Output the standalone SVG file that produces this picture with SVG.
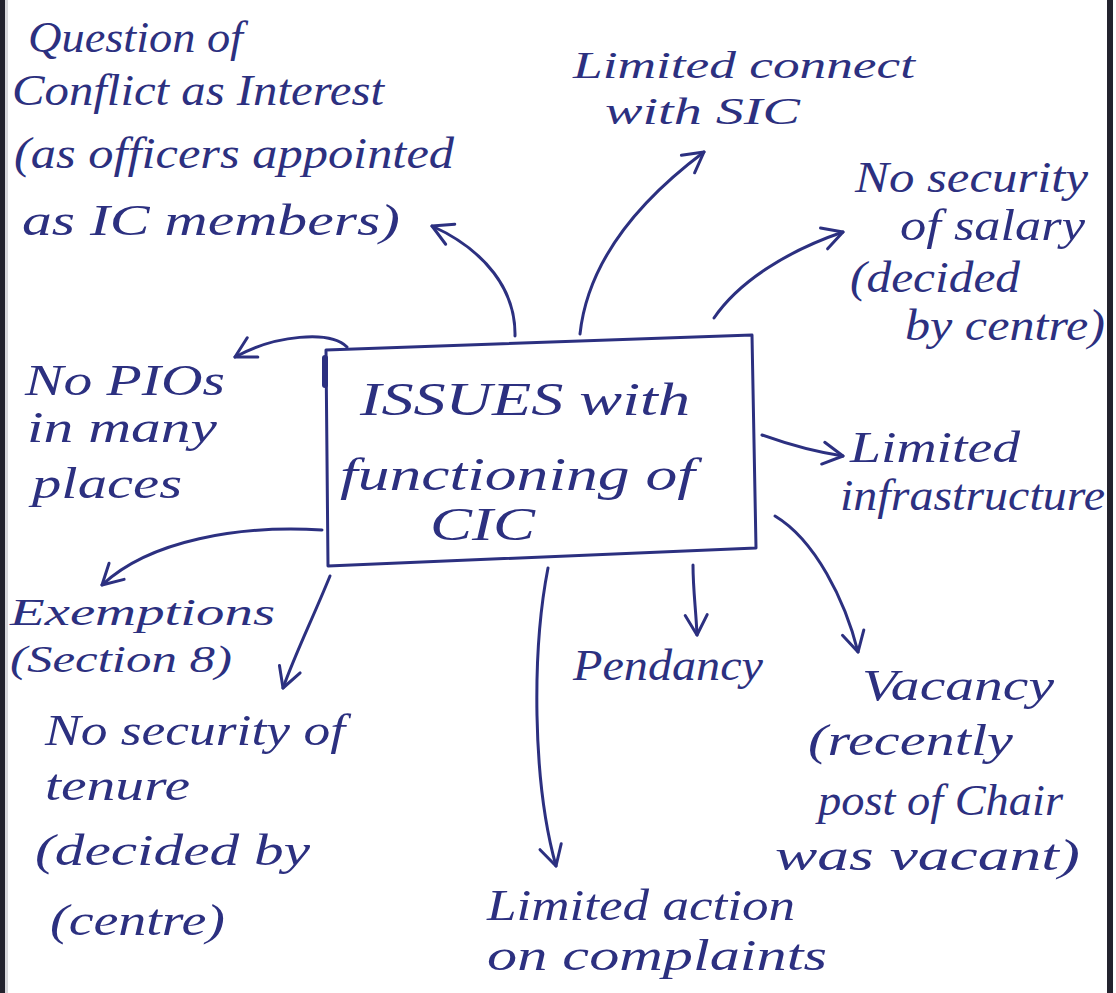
<svg xmlns="http://www.w3.org/2000/svg" width="1116" height="993" viewBox="0 0 1116 993">
  <style>
    .t { font-family: "Liberation Serif", "DejaVu Serif", serif; font-style: italic; font-size: 44px; fill: #2c3080; }
    .b { font-size: 46px; }
    .s { font-size: 38px; }
    .ln { fill: none; stroke: #2c3080; stroke-width: 3; stroke-linecap: round; stroke-linejoin: round; }
  </style>
  <defs>
    <marker id="head" viewBox="-24 -14 28 28" refX="0" refY="0" markerWidth="28" markerHeight="28" markerUnits="userSpaceOnUse" orient="auto">
      <path d="M-20,-11 L0,0 L-20,11" fill="none" stroke="#2c3080" stroke-width="3" stroke-linecap="round" stroke-linejoin="round"/>
    </marker>
  </defs>

  <rect width="1116" height="993" fill="#ffffff"/>

  <!-- central box -->
  <g id="center">
    <polygon class="ln" points="326,350 752,335 756,548 328,566"/>
    <path d="M325,358 L325,385" stroke="#2c3080" stroke-width="6" stroke-linecap="round"/>
    <text class="t b" x="360" y="415" textLength="330" lengthAdjust="spacingAndGlyphs">ISSUES with</text>
    <text class="t b" x="340" y="490" textLength="355" lengthAdjust="spacingAndGlyphs">functioning of</text>
    <text class="t b" x="430" y="540" textLength="105" lengthAdjust="spacingAndGlyphs">CIC</text>
  </g>

  <g id="conflict">
    <text class="t" x="28" y="52" textLength="215" lengthAdjust="spacingAndGlyphs">Question of</text>
    <text class="t" x="12" y="105" textLength="372" lengthAdjust="spacingAndGlyphs">Conflict as Interest</text>
    <text class="t" x="14" y="168" textLength="440" lengthAdjust="spacingAndGlyphs">(as officers appointed</text>
    <text class="t" x="22" y="235" textLength="378" lengthAdjust="spacingAndGlyphs">as IC members)</text>
  </g>

  <g id="sic">
    <text class="t s" x="573" y="78" textLength="342" lengthAdjust="spacingAndGlyphs">Limited connect</text>
    <text class="t s" x="605" y="124" textLength="195" lengthAdjust="spacingAndGlyphs">with SIC</text>
  </g>

  <g id="salary">
    <text class="t" x="855" y="192" textLength="233" lengthAdjust="spacingAndGlyphs">No security</text>
    <text class="t" x="900" y="240" textLength="185" lengthAdjust="spacingAndGlyphs">of salary</text>
    <text class="t" x="850" y="292" textLength="170" lengthAdjust="spacingAndGlyphs">(decided</text>
    <text class="t" x="905" y="340" textLength="200" lengthAdjust="spacingAndGlyphs">by centre)</text>
  </g>

  <g id="pio">
    <text class="t" x="25" y="395" textLength="200" lengthAdjust="spacingAndGlyphs">No PIOs</text>
    <text class="t" x="27" y="442" textLength="190" lengthAdjust="spacingAndGlyphs">in many</text>
    <text class="t" x="32" y="498" textLength="150" lengthAdjust="spacingAndGlyphs">places</text>
  </g>

  <g id="infra">
    <text class="t" x="850" y="462" textLength="170" lengthAdjust="spacingAndGlyphs">Limited</text>
    <text class="t" x="840" y="510" textLength="265" lengthAdjust="spacingAndGlyphs">infrastructure</text>
  </g>

  <g id="exemptions">
    <text class="t s" x="10" y="625" textLength="265" lengthAdjust="spacingAndGlyphs">Exemptions</text>
    <text class="t s" x="10" y="672" textLength="222" lengthAdjust="spacingAndGlyphs">(Section 8)</text>
  </g>

  <g id="tenure">
    <text class="t" x="45" y="745" textLength="300" lengthAdjust="spacingAndGlyphs">No security of</text>
    <text class="t" x="45" y="800" textLength="145" lengthAdjust="spacingAndGlyphs">tenure</text>
    <text class="t" x="35" y="865" textLength="275" lengthAdjust="spacingAndGlyphs">(decided by</text>
    <text class="t" x="50" y="935" textLength="175" lengthAdjust="spacingAndGlyphs">(centre)</text>
  </g>

  <g id="pendancy">
    <text class="t" x="573" y="680" textLength="190" lengthAdjust="spacingAndGlyphs">Pendancy</text>
  </g>

  <g id="vacancy">
    <text class="t" x="862" y="700" textLength="192" lengthAdjust="spacingAndGlyphs">Vacancy</text>
    <text class="t" x="808" y="755" textLength="205" lengthAdjust="spacingAndGlyphs">(recently</text>
    <text class="t" x="818" y="815" textLength="245" lengthAdjust="spacingAndGlyphs">post of Chair</text>
    <text class="t" x="775" y="870" textLength="305" lengthAdjust="spacingAndGlyphs">was vacant)</text>
  </g>

  <g id="complaints">
    <text class="t" x="487" y="920" textLength="308" lengthAdjust="spacingAndGlyphs">Limited action</text>
    <text class="t" x="487" y="970" textLength="340" lengthAdjust="spacingAndGlyphs">on complaints</text>
  </g>

  <!-- connectors from the central box -->
  <g id="connectors">
    <path class="ln" marker-end="url(#head)" d="M515,336 C516,290 485,250 432,226"/>
    <path class="ln" marker-end="url(#head)" d="M580,334 C588,260 640,200 704,152"/>
    <path class="ln" marker-end="url(#head)" d="M714,318 C740,280 790,250 843,232"/>
    <path class="ln" marker-end="url(#head)" d="M347,347 C330,330 275,335 235,357"/>
    <path class="ln" marker-end="url(#head)" d="M322,530 C240,525 150,540 102,585"/>
    <path class="ln" marker-end="url(#head)" d="M330,576 C312,620 296,652 283,688"/>
    <path class="ln" marker-end="url(#head)" d="M548,568 C532,650 532,780 556,866"/>
    <path class="ln" marker-end="url(#head)" d="M693,565 C693,590 696,610 697,635"/>
    <path class="ln" marker-end="url(#head)" d="M762,435 C790,445 815,452 843,456"/>
    <path class="ln" marker-end="url(#head)" d="M775,516 C815,540 845,600 858,652"/>
  </g>

  <!-- page edges -->
  <rect x="0" y="0" width="5" height="993" fill="#23232e"/>
  <rect x="5" y="0" width="3" height="993" fill="#d8d8dc"/>
  <rect x="1107" y="0" width="6" height="993" fill="#23232e"/>
  <rect x="1113" y="0" width="3" height="993" fill="#ffffff"/>
</svg>
